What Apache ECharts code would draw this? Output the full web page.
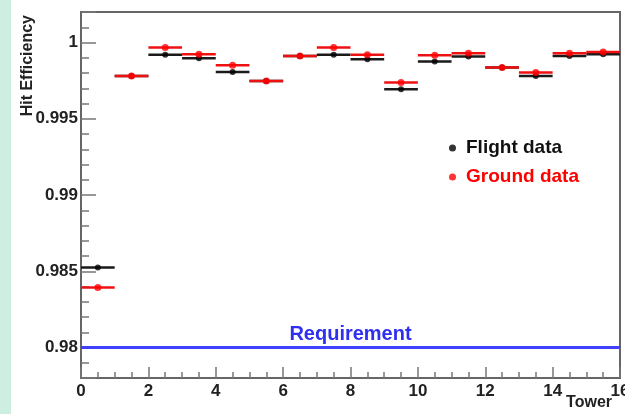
<!DOCTYPE html>
<html>
<head>
<meta charset="utf-8">
<script src="https://cdn.jsdelivr.net/npm/echarts@6/dist/echarts.min.js"></script>
<style>
html,body{margin:0;padding:0;background:#fff;}
#chart{width:625px;height:414px;}
</style>
</head>
<body>
<div id="chart"></div>
<script>
// Tower index (bin low edge); each bin spans [tower, tower+1]
var towers = [0, 1, 2, 3, 4, 5, 6, 7, 8, 9, 10, 11, 12, 13, 14, 15];
var flightData = [0.98525, 0.99780, 0.99919, 0.99897, 0.99807, 0.99748, 0.99912, 0.99919,
                  0.99890, 0.99693, 0.99875, 0.99908, 0.99836, 0.99781, 0.99912, 0.99923];
var groundData = [0.98394, 0.99781, 0.99967, 0.99923, 0.99851, 0.99748, 0.99912, 0.99967,
                  0.99919, 0.99737, 0.99917, 0.99930, 0.99836, 0.99803, 0.99930, 0.99938];
var requirement = 0.98;
var seriesNames = ['Flight data', 'Ground data'];
var requirementLabel = 'Requirement';
var yTitle = 'Hit Efficiency';
var xTitle = 'Tower';

var FONT = '"Liberation Sans", Arial, Helvetica, sans-serif';

function binData(vals) {
  return towers.map(function (t, i) { return [t, t + 1, vals[i]]; });
}
function pointData(vals) {
  return towers.map(function (t, i) { return [t + 0.5, vals[i]]; });
}
function barRenderer(color, width) {
  return function (params, api) {
    var a = api.coord([api.value(0), api.value(2)]);
    var b = api.coord([api.value(1), api.value(2)]);
    return {
      type: 'line',
      shape: { x1: a[0], y1: a[1], x2: b[0], y2: b[1] },
      style: { stroke: color, lineWidth: width }
    };
  };
}

var chart = echarts.init(document.getElementById('chart'), null, { renderer: 'canvas' });
chart.setOption({
  animation: false,
  backgroundColor: '#ffffff',
  graphic: [
    { type: 'rect', left: 0, top: 0, shape: { width: 11, height: 414 }, style: { fill: '#cdeee1' }, z: -10 }
  ],
  grid: {
    left: 81, right: 5, top: 12, bottom: 36,
    outerBoundsMode: 'none', containLabel: false,
    show: true, borderColor: '#666', borderWidth: 2, backgroundColor: '#fff'
  },
  legend: {
    orient: 'vertical',
    left: 444, top: 132,
    itemGap: 7,
    itemWidth: 7, itemHeight: 7,
    icon: 'circle',
    data: [
      { name: seriesNames[0], textStyle: { color: '#111' } },
      { name: seriesNames[1], textStyle: { color: '#ff0000' } }
    ],
    textStyle: { fontFamily: FONT, fontWeight: 'bold', fontSize: 19, lineHeight: 22, padding: [0, 0, 0, 5] }
  },
  xAxis: {
    type: 'value', min: 0, max: 16, interval: 2,
    name: xTitle, nameLocation: 'end', nameGap: -8, nameMoveOverlap: false,
    nameTextStyle: { fontFamily: FONT, fontWeight: 'bold', fontSize: 16, color: '#222', align: 'right', verticalAlign: 'top', padding: [17, 0, 0, 0] },
    axisLine: { lineStyle: { color: '#666', width: 2 } },
    axisTick: { inside: true, length: 11, lineStyle: { color: '#777', width: 1.5 } },
    minorTick: { show: true, splitNumber: 4, length: 6, lineStyle: { color: '#777', width: 1.5 } },
    axisLabel: { margin: 5, fontFamily: FONT, fontWeight: 'bold', fontSize: 17, color: '#222' },
    splitLine: { show: false }
  },
  yAxis: {
    type: 'value', min: 0.978, max: 1.002, splitNumber: 5,
    name: yTitle, nameLocation: 'end', nameGap: -3, nameRotate: 90, nameMoveOverlap: false,
    nameTextStyle: { fontFamily: FONT, fontWeight: 'bold', fontSize: 16, color: '#222', align: 'right', verticalAlign: 'bottom', padding: [0, 0, 45, 0] },
    axisLine: { lineStyle: { color: '#666', width: 2 } },
    axisTick: { inside: true, length: 15, lineStyle: { color: '#777', width: 1.5 } },
    minorTick: { show: true, splitNumber: 5, length: 8, lineStyle: { color: '#777', width: 1.5 } },
    axisLabel: { margin: 3, showMinLabel: false, showMaxLabel: false, fontFamily: FONT, fontWeight: 'bold', fontSize: 17, color: '#222' },
    splitLine: { show: false }
  },
  series: [
    {
      name: 'flight-bins', type: 'custom', z: 3, silent: true,
      renderItem: barRenderer('#1a1a1a', 2.5),
      encode: { x: [0, 1], y: 2 },
      data: binData(flightData)
    },
    {
      name: seriesNames[0], type: 'scatter', z: 4,
      symbol: 'circle', symbolSize: 6,
      itemStyle: { color: '#000' },
      data: pointData(flightData),
      markLine: {
        silent: true, symbol: ['none', 'none'],
        lineStyle: { color: '#4040ff', width: 3, type: 'solid' },
        label: { show: true, position: 'insideMiddleTop', distance: 3, formatter: requirementLabel,
                 fontFamily: FONT, fontWeight: 'bold', fontSize: 20, color: '#2f2ff0' },
        data: [{ yAxis: requirement }]
      }
    },
    {
      name: 'ground-bins', type: 'custom', z: 5, silent: true,
      renderItem: barRenderer('#ee1111', 2.5),
      encode: { x: [0, 1], y: 2 },
      data: binData(groundData)
    },
    {
      name: seriesNames[1], type: 'scatter', z: 6,
      symbol: 'circle', symbolSize: 7,
      itemStyle: { color: '#ff0000' },
      data: pointData(groundData)
    }
  ]
});
</script>
</body>
</html>
